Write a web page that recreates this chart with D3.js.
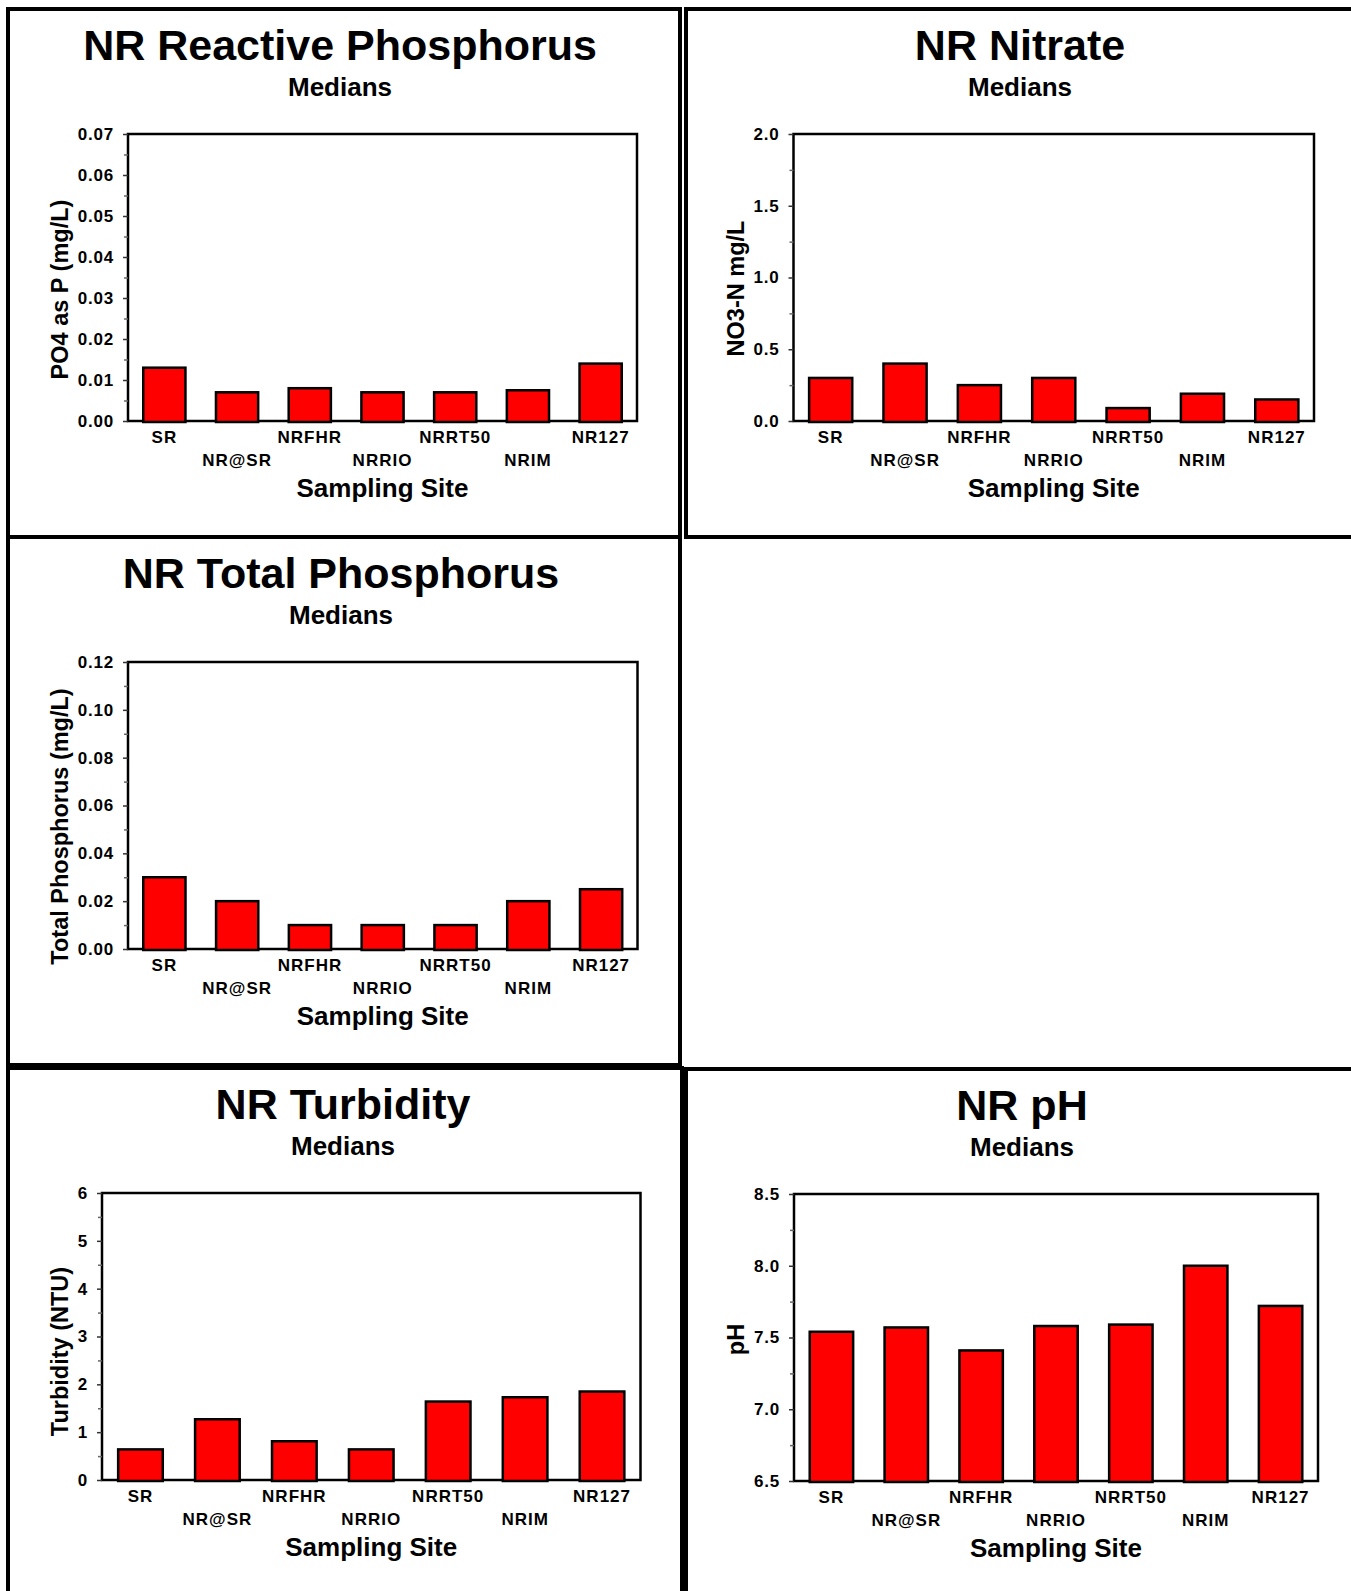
<!DOCTYPE html>
<html>
<head>
<meta charset="utf-8">
<script src="https://cdn.jsdelivr.net/npm/d3@7"></script>
<style>
  body { margin: 0; background: #fff; }
  svg { display: block; }
</style>
</head>
<body>
<svg id="chart" width="1351" height="1591"></svg>
<script>
// sampling sites, same order in every chart
const sites = ['SR', 'NR@SR', 'NRFHR', 'NRRIO', 'NRRT50', 'NRIM', 'NR127'];

// medians
const reactivePhosphorus = [0.013, 0.007, 0.008, 0.007, 0.007, 0.0075, 0.014];
const nitrate = [0.30, 0.40, 0.25, 0.30, 0.09, 0.19, 0.15];
const totalPhosphorus = [0.030, 0.020, 0.010, 0.010, 0.010, 0.020, 0.025];
const turbidity = [0.64, 1.27, 0.81, 0.64, 1.64, 1.73, 1.85];
const ph = [7.54, 7.57, 7.41, 7.58, 7.59, 8.00, 7.72];

// y axis ticks
const rpTicks = [0, 0.01, 0.02, 0.03, 0.04, 0.05, 0.06, 0.07];
const nitrateTicks = [0, 0.5, 1.0, 1.5, 2.0];
const tpTicks = [0, 0.02, 0.04, 0.06, 0.08, 0.10, 0.12];
const turbidityTicks = [0, 1, 2, 3, 4, 5, 6];
const phTicks = [6.5, 7.0, 7.5, 8.0, 8.5];

const FONT = '"Liberation Sans", Arial, Helvetica, sans-serif';
const svg = d3.select('#chart');

const panels = [
  { title: 'NR Reactive Phosphorus', ylabel: 'PO4 as P (mg/L)', values: reactivePhosphorus,
    ticks: rpTicks, fmt: '.2f', frame: [8, 9, 680, 537], plotX: [128, 637], titleX: 340, shift: 12 },
  { title: 'NR Nitrate', ylabel: 'NO3-N mg/L', values: nitrate,
    ticks: nitrateTicks, fmt: '.1f', frame: [686, 9, 1362, 537], plotX: [793.5, 1314], titleX: 1020, shift: 11 },
  { title: 'NR Total Phosphorus', ylabel: 'Total Phosphorus (mg/L)', values: totalPhosphorus,
    ticks: tpTicks, fmt: '.2f', frame: [8, 537, 680, 1065], plotX: [128, 637.5], titleX: 341, shift: 21 },
  { title: 'NR Turbidity', ylabel: 'Turbidity (NTU)', values: turbidity,
    ticks: turbidityTicks, fmt: 'd', frame: [8, 1068, 682, 1610], plotX: [102, 640.5], titleX: 343, shift: 15 },
  { title: 'NR pH', ylabel: 'pH', values: ph,
    ticks: phTicks, fmt: '.1f', frame: [686, 1069, 1362, 1610], plotX: [794, 1318], titleX: 1022, shift: 2 }
];

panels.forEach(drawPanel);

function drawPanel(p) {
  const [fx0, fy0, fx1, fy1] = p.frame;
  const [left, right] = p.plotX;
  const top = fy0 + 125;
  const bottom = fy0 + 412;

  const g = svg.append('g').attr('font-family', FONT).attr('font-weight', 'bold');

  g.append('rect')
    .attr('x', fx0).attr('y', fy0)
    .attr('width', fx1 - fx0).attr('height', fy1 - fy0)
    .attr('fill', 'none').attr('stroke', '#000').attr('stroke-width', 4);

  g.append('text')
    .attr('x', p.titleX).attr('y', fy0 + 51)
    .attr('text-anchor', 'middle').attr('font-size', 43)
    .text(p.title);

  g.append('text')
    .attr('x', p.titleX).attr('y', fy0 + 87)
    .attr('text-anchor', 'middle').attr('font-size', 26)
    .text('Medians');

  const x = d3.scaleBand()
    .domain(sites)
    .range([left, right])
    .paddingInner(0.42)
    .paddingOuter(0.21);

  const y = d3.scaleLinear()
    .domain([p.ticks[0], p.ticks[p.ticks.length - 1]])
    .range([bottom, top]);

  // plot box
  g.append('rect')
    .attr('x', left).attr('y', top)
    .attr('width', right - left).attr('height', bottom - top)
    .attr('fill', 'none').attr('stroke', '#000').attr('stroke-width', 2.5);

  // minor ticks halfway between the labelled ones
  const minor = d3.pairs(p.ticks).map(([a, b]) => (a + b) / 2);
  const minorAxis = g.append('g')
    .attr('transform', `translate(${left},0)`)
    .call(d3.axisLeft(y).tickValues(minor).tickSize(4).tickFormat(''));
  minorAxis.select('.domain').remove();
  minorAxis.selectAll('line').attr('stroke', '#666').attr('stroke-width', 1.5);

  const yAxis = g.append('g')
    .attr('transform', `translate(${left},0)`)
    .call(d3.axisLeft(y).tickValues(p.ticks).tickSize(5).tickPadding(9).tickFormat(d3.format(p.fmt)));
  yAxis.select('.domain').remove();
  yAxis.attr('font-family', FONT).attr('font-size', 17);
  yAxis.selectAll('line').attr('stroke', '#333').attr('stroke-width', 1.5);
  yAxis.selectAll('text').attr('fill', '#000').style('letter-spacing', '0.8px');

  // bars
  g.selectAll('rect.bar')
    .data(p.values)
    .enter()
    .append('rect')
    .attr('class', 'bar')
    .attr('x', (d, i) => x(sites[i]))
    .attr('y', d => y(d))
    .attr('width', x.bandwidth())
    .attr('height', d => y(p.ticks[0]) - y(d) + 1)
    .attr('fill', '#ff0000')
    .attr('stroke', '#000')
    .attr('stroke-width', 2.5);

  // x labels, staggered on two rows
  const xAxis = g.append('g')
    .attr('transform', `translate(0,${bottom})`)
    .call(d3.axisBottom(x).tickSize(0).tickPadding(10));
  xAxis.select('.domain').remove();
  xAxis.attr('font-family', FONT).attr('font-size', 17);
  xAxis.selectAll('text')
    .attr('fill', '#000')
    .attr('y', (d, i) => i % 2 ? 33 : 10)
    .style('letter-spacing', '1px');

  g.append('text')
    .attr('x', (left + right) / 2).attr('y', bottom + 67)
    .attr('dy', '0.35em')
    .attr('text-anchor', 'middle').attr('font-size', 26)
    .text('Sampling Site');

  const bb = yAxis.node().getBBox();
  const cx = left + bb.x - 18;
  const cy = (top + bottom) / 2 + p.shift;
  g.append('text')
    .attr('transform', `translate(${cx},${cy}) rotate(-90)`)
    .attr('dy', '0.35em')
    .attr('text-anchor', 'middle').attr('font-size', 23.5)
    .text(p.ylabel);
}
</script>
</body>
</html>
